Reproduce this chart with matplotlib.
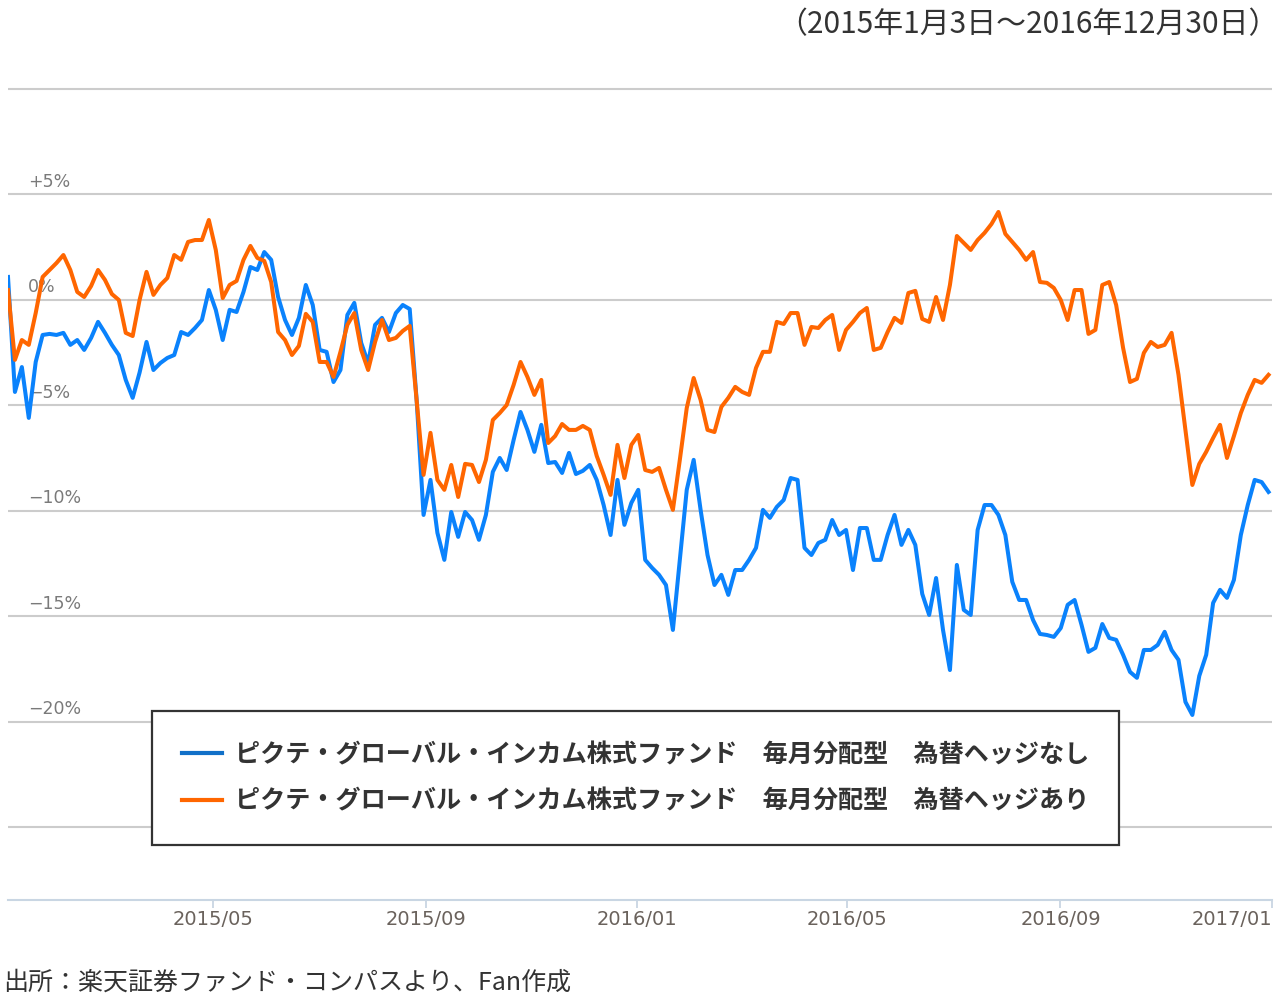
import numpy as np
import pandas as pd
import matplotlib
matplotlib.use("Agg")
import matplotlib.pyplot as plt
from matplotlib.lines import Line2D

plt.rcParams['font.family'] = ['Noto Sans CJK JP', 'DejaVu Sans']

# -----------------------------
# DATA (% change since 2015/01/03)
# -----------------------------
dates = pd.date_range('2015-01-03', '2016-12-30', periods=183)

hedged = [  # 為替ヘッジあり (orange)
    0.47, -2.84, -1.90, -2.13, -0.62, 1.09, 1.42, 1.75, 2.13, 1.42,
    0.38, 0.14, 0.66, 1.42, 0.95, 0.28, 0.00, -1.56, -1.71, 0.00,
    1.33, 0.24, 0.71, 1.04, 2.13, 1.90, 2.75, 2.84, 2.84, 3.79,
    2.37, 0.09, 0.71, 0.90, 1.90, 2.56, 1.99, 1.85, 0.85, -1.52,
    -1.90, -2.61, -2.18, -0.66, -1.04, -2.94, -2.94, -3.65, -2.46, -1.18,
    -0.62, -2.37, -3.32, -1.99, -0.95, -1.90, -1.80, -1.47, -1.23, -4.74,
    -8.29, -6.30, -8.53, -9.00, -7.82, -9.34, -7.77, -7.82, -8.63, -7.58,
    -5.69, -5.36, -4.98, -4.03, -2.94, -3.65, -4.50, -3.79, -6.78, -6.45,
    -5.88, -6.16, -6.16, -5.97, -6.16, -7.39, -8.29, -9.24, -6.87, -8.44,
    -6.87, -6.40, -8.06, -8.15, -7.96, -9.00, -9.95, -7.58, -5.12, -3.70,
    -4.74, -6.16, -6.26, -5.07, -4.64, -4.12, -4.36, -4.50, -3.22, -2.46,
    -2.46, -1.04, -1.14, -0.62, -0.62, -2.13, -1.28, -1.33, -0.95, -0.71,
    -2.37, -1.42, -1.04, -0.62, -0.38, -2.37, -2.27, -1.52, -0.85, -1.09,
    0.33, 0.43, -0.90, -1.04, 0.14, -0.95, 0.71, 3.03, 2.70, 2.37,
    2.84, 3.18, 3.60, 4.17, 3.13, 2.75, 2.37, 1.90, 2.27, 0.85,
    0.81, 0.57, 0.00, -0.95, 0.47, 0.47, -1.61, -1.42, 0.71, 0.85,
    -0.24, -2.27, -3.89, -3.74, -2.51, -1.99, -2.23, -2.13, -1.56, -3.55,
    -6.16, -8.77, -7.77, -7.20, -6.54, -5.92, -7.49, -6.45, -5.36, -4.50,
    -3.79, -3.93, -3.55,
]

unhedged = [  # 為替ヘッジなし (blue)
    1.09, -4.36, -3.18, -5.59, -2.94, -1.66, -1.61, -1.66, -1.56, -2.13,
    -1.90, -2.37, -1.80, -1.04, -1.56, -2.13, -2.61, -3.79, -4.64, -3.44,
    -1.99, -3.32, -2.99, -2.75, -2.61, -1.52, -1.66, -1.33, -0.95, 0.47,
    -0.47, -1.90, -0.47, -0.57, 0.38, 1.56, 1.42, 2.27, 1.90, 0.14,
    -0.95, -1.66, -0.85, 0.71, -0.24, -2.37, -2.46, -3.89, -3.32, -0.71,
    -0.14, -2.04, -2.99, -1.18, -0.85, -1.52, -0.62, -0.24, -0.43, -4.74,
    -10.19, -8.53, -11.04, -12.32, -10.05, -11.23, -10.05, -10.43, -11.37, -10.19,
    -8.15, -7.49, -8.06, -6.64, -5.31, -6.16, -7.20, -5.92, -7.73, -7.68,
    -8.20, -7.25, -8.25, -8.10, -7.82, -8.53, -9.72, -11.14, -8.53, -10.66,
    -9.62, -9.00, -12.32, -12.70, -13.03, -13.51, -15.64, -12.32, -9.00, -7.58,
    -9.95, -12.09, -13.51, -13.03, -13.98, -12.80, -12.80, -12.32, -11.75, -9.95,
    -10.33, -9.81, -9.48, -8.44, -8.53, -11.75, -12.09, -11.52, -11.37, -10.43,
    -11.14, -10.90, -12.80, -10.81, -10.81, -12.32, -12.32, -11.14, -10.19, -11.61,
    -10.90, -11.61, -13.93, -14.93, -13.18, -15.64, -17.54, -12.56, -14.69, -14.93,
    -10.90, -9.72, -9.72, -10.19, -11.14, -13.36, -14.22, -14.22, -15.17, -15.83,
    -15.88, -15.97, -15.55, -14.45, -14.22, -15.40, -16.68, -16.49, -15.36, -16.02,
    -16.11, -16.82, -17.63, -17.91, -16.59, -16.59, -16.35, -15.73, -16.59, -17.06,
    -19.05, -19.67, -17.82, -16.82, -14.36, -13.74, -14.12, -13.27, -11.14, -9.72,
    -8.53, -8.63, -9.10,
]

series_labels = [
    "ピクテ・グローバル・インカム株式ファンド\u3000毎月分配型\u3000為替ヘッジなし",
    "ピクテ・グローバル・インカム株式ファンド\u3000毎月分配型\u3000為替ヘッジあり",
]

grid_levels = [10, 5, 0, -5, -10, -15, -20, -25]
ylabel_levels = [5, 0, -5, -10, -15, -20]
ylabel_texts = ["+5%", "0%", "\u22125%", "\u221210%", "\u221215%", "\u221220%"]

tick_dates = pd.to_datetime(['2015-05-01', '2015-09-01', '2016-01-01',
                             '2016-05-01', '2016-09-01', '2017-01-01'])
tick_texts = ["2015/05", "2015/09", "2016/01", "2016/05", "2016/09", "2017/01"]

BLUE = '#0a82fc'
ORANGE = '#ff6600'

# -----------------------------
# PLOT
# -----------------------------
fig = plt.figure(figsize=(12.8, 10), dpi=100)
ax = fig.add_axes([8 / 1280, 0.1, 1264 / 1280, 0.814])

ax.set_xlim(pd.Timestamp('2015-01-03'), pd.Timestamp('2017-01-01'))
ax.set_ylim(-28.44, 10.14)

for v in grid_levels:
    ax.axhline(v, color='#cccccc', lw=1.5, zorder=1)

for v, t in zip(ylabel_levels, ylabel_texts):
    ax.annotate(t, xy=(0, v), xycoords=('axes fraction', 'data'),
                xytext=(14.5, 2.5), textcoords='offset points',
                ha='left', va='bottom', fontsize=12.5, color='#7a7a7a',
                family='DejaVu Sans', zorder=2)

ax.plot(dates, unhedged, color=BLUE, lw=2.9, zorder=3)
ax.plot(dates, hedged, color=ORANGE, lw=2.9, zorder=4)

for s in ['top', 'right', 'left']:
    ax.spines[s].set_visible(False)
ax.spines['bottom'].set_color('#c9d6e3')
ax.spines['bottom'].set_linewidth(1.5)

ax.set_yticks([])
ax.set_xticks(tick_dates)
ax.set_xticklabels(tick_texts, fontsize=14, color='#6a625c', family='DejaVu Sans')
ax.xaxis.get_ticklabels()[-1].set_horizontalalignment('right')
ax.tick_params(axis='x', direction='out', length=6, width=1.3,
               color='#c9d6e3', pad=1)

# Legend
handles = [Line2D([], [], color='#1170c8', lw=3),
           Line2D([], [], color=ORANGE, lw=3)]
leg = fig.legend(handles, series_labels, loc='upper left',
                 bbox_to_anchor=(152 / 1280, 1 - 711 / 1000),
                 prop={'size': 18.1, 'weight': 'bold'},
                 frameon=True, fancybox=False, framealpha=1,
                 edgecolor='#333333', borderpad=1.2, handlelength=1.6,
                 handletextpad=0.5, labelspacing=0.78, borderaxespad=0)
leg.get_frame().set_linewidth(1.6)
for t in leg.get_texts():
    t.set_color('#333333')

# Period and source
fig.text(1279 / 1280, 1 - 25 / 1000, "（2015年1月3日〜2016年12月30日）",
         ha='right', va='center', fontsize=21.5, color='#333333')
fig.text(3 / 1280, 1 - 983 / 1000, "出所：楽天証券ファンド・コンパスより、Fan作成",
         ha='left', va='center', fontsize=18, color='#333333')

fig.savefig('out.png', dpi=100)
